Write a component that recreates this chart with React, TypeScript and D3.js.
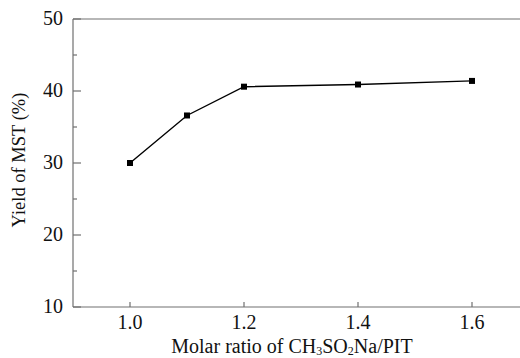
import React from "react";
import * as d3 from "d3";

const ratios = [1.0, 1.1, 1.2, 1.4, 1.6];
const yields = [30.0, 36.6, 40.6, 40.9, 41.4];
const xTicks = [1.0, 1.2, 1.4, 1.6];
const yTicks = [10, 20, 30, 40, 50];
const yMinorTicks = [15, 25, 35, 45];

const W = 520;
const H = 358;
const FONT = "'Liberation Serif', 'Times New Roman', serif";

export default function App() {
  const x = d3.scaleLinear().domain([0.9, 1.7]).range([73, 529]);
  const y = d3.scaleLinear().domain([10, 50]).range([307, 19]);
  const line = d3
    .line<number>()
    .x((_, i) => x(ratios[i]))
    .y((d) => y(d));
  const axisColor = "#707070";
  const left = x(0.9);
  return (
    <svg
      width={W}
      height={H}
      style={{ position: "absolute", left: 0, top: 0, background: "#fff" }}
      fontFamily={FONT}
    >
      {/* axes */}
      <line x1={left} x2={W} y1={y(10)} y2={y(10)} stroke={axisColor} strokeWidth={1.2} />
      <line x1={left} x2={W} y1={y(50)} y2={y(50)} stroke={axisColor} strokeWidth={1.2} />
      <line x1={left} x2={left} y1={y(50)} y2={y(10)} stroke={axisColor} strokeWidth={1.2} />
      {yTicks.map((t) => (
        <g key={"y" + t}>
          <line x1={left} x2={left + 8} y1={y(t)} y2={y(t)} stroke={axisColor} strokeWidth={1.2} />
          <text x={left - 10} y={y(t) + 6} textAnchor="end" fontSize={20} fill="#111">
            {t}
          </text>
        </g>
      ))}
      {yMinorTicks.map((t) => (
        <line key={"ym" + t} x1={left} x2={left + 4} y1={y(t)} y2={y(t)} stroke={axisColor} strokeWidth={1.2} />
      ))}
      {xTicks.map((t) => (
        <g key={"x" + t}>
          <line x1={x(t)} x2={x(t)} y1={y(10)} y2={y(10) - 5} stroke={axisColor} strokeWidth={1.2} />
          <text x={x(t)} y={329} textAnchor="middle" fontSize={20} fill="#111">
            {t.toFixed(1)}
          </text>
        </g>
      ))}
      {/* data */}
      <path d={line(yields) || ""} fill="none" stroke="#000" strokeWidth={1.4} />
      {yields.map((v, i) => (
        <rect key={i} x={x(ratios[i]) - 3} y={y(v) - 3} width={6} height={6} fill="#000" />
      ))}
      {/* titles */}
      <text x={292} y={353} textAnchor="middle" fontSize={20} fill="#111">
        Molar ratio of CH
        <tspan fontSize={12} dy={2}>3</tspan>
        <tspan dy={-2}>SO</tspan>
        <tspan fontSize={12} dy={2}>2</tspan>
        <tspan dy={-2}>Na/PIT</tspan>
      </text>
      <text
        transform={`translate(25, 160) rotate(-90)`}
        textAnchor="middle"
        fontSize={18.5}
        fill="#111"
      >
        Yield of MST (%)
      </text>
    </svg>
  );
}
